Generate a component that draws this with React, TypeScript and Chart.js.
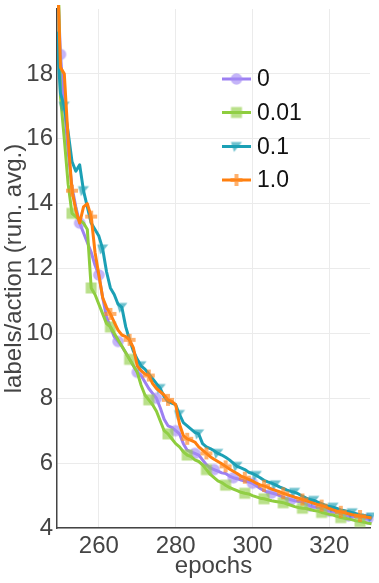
import React, { useEffect, useRef } from "react";
import { Chart, registerables } from "chart.js";

Chart.register(...registerables);

// ---------- data ----------
const EPOCHS = [
  249, 250, 251, 252, 253, 254, 255, 256, 257, 258,
  259, 260, 261, 262, 263, 264, 265, 266, 267, 268,
  269, 270, 271, 272, 273, 274, 275, 276, 277, 278,
  279, 280, 281, 282, 283, 284, 285, 286, 287, 288,
  289, 290, 291, 292, 293, 294, 295, 296, 297, 298,
  299, 300, 301, 302, 303, 304, 305, 306, 307, 308,
  309, 310, 311, 312, 313, 314, 315, 316, 317, 318,
  319, 320, 321, 322, 323, 324, 325, 326, 327, 328,
  329, 330, 331,
];

const SERIES_NAMES = ["0", "0.01", "0.1", "1.0"];

const VALUES_0 = [
  21.5, 18.6, 17.0, 15.6, 14.5, 13.9, 13.4, 13.1, 12.8, 12.5,
  12.1, 11.8, 11.1, 10.5, 10.2, 9.9, 9.75, 9.6, 9.4, 9.2,
  9.0, 8.8, 8.7, 8.5, 8.3, 8.15, 8.0, 7.7, 7.35, 7.15,
  7.1, 7.0, 6.9, 6.6, 6.4, 6.35, 6.3, 6.25, 6.1, 5.95,
  5.85, 5.8, 5.75, 5.7, 5.68, 5.6, 5.55, 5.52, 5.48, 5.45,
  5.42, 5.38, 5.3, 5.22, 5.15, 5.1, 5.08, 5.05, 5.0, 4.95,
  4.9, 4.87, 4.84, 4.82, 4.8, 4.74, 4.68, 4.65, 4.62, 4.6,
  4.56, 4.52, 4.5, 4.47, 4.44, 4.4, 4.37, 4.35, 4.34, 4.33,
  4.3, 4.28, 4.26,
];

const VALUES_001 = [
  24, 17.3, 16.0, 14.6, 13.7, 13.6, 13.5, 13.4, 13.2, 11.4,
  11.2, 10.9, 10.6, 10.3, 10.2, 10.0, 9.8, 9.6, 9.4, 9.2,
  9.0, 8.8, 8.4, 8.1, 7.95, 7.8, 7.6, 7.3, 7.0, 6.9,
  6.75, 6.6, 6.5, 6.35, 6.25, 6.2, 6.1, 6.05, 5.95, 5.8,
  5.65, 5.55, 5.45, 5.4, 5.32, 5.25, 5.2, 5.15, 5.1, 5.07,
  5.05, 5.0, 4.96, 4.92, 4.9, 4.87, 4.84, 4.82, 4.8, 4.78,
  4.74, 4.7, 4.66, 4.63, 4.61, 4.6, 4.57, 4.54, 4.52, 4.48,
  4.45, 4.42, 4.4, 4.36, 4.32, 4.3, 4.28, 4.25, 4.22, 4.2,
  4.18, 4.15, 4.13,
];

const VALUES_01 = [
  19.3, 17.4, 17.0, 16.2, 15.3, 15.0, 15.2, 14.4, 13.9, 13.4,
  13.2, 13.0, 12.6, 11.9, 11.4, 11.2, 10.9, 10.8, 10.2, 9.8,
  9.45, 9.2, 9.0, 8.9, 8.75, 8.6, 8.45, 8.3, 8.05, 7.9,
  7.85, 7.8, 7.5, 7.25, 7.15, 7.05, 6.95, 6.9, 6.6, 6.5,
  6.45, 6.38, 6.3, 6.25, 6.18, 6.1, 6.0, 5.9, 5.85, 5.8,
  5.72, 5.68, 5.62, 5.55, 5.47, 5.42, 5.38, 5.33, 5.27, 5.22,
  5.17, 5.13, 5.1, 5.05, 4.98, 4.92, 4.88, 4.85, 4.8, 4.75,
  4.7, 4.66, 4.64, 4.6, 4.56, 4.53, 4.5, 4.47, 4.44, 4.41,
  4.39, 4.36, 4.34,
];

const VALUES_1 = [
  22, 18.2, 18.0, 16.0, 14.4, 13.8, 13.4, 13.9, 14.0, 13.6,
  12.5, 11.8, 11.1, 10.8, 10.6, 10.35, 10.1, 9.95, 9.9, 9.8,
  9.55, 9.0, 8.85, 8.75, 8.7, 8.45, 8.3, 8.2, 8.1, 7.95,
  7.9, 7.8, 7.2, 6.85, 6.75, 6.7, 6.65, 6.5, 6.4, 6.3,
  6.2, 6.12, 6.05, 5.98, 5.9, 5.82, 5.75, 5.68, 5.6, 5.55,
  5.5, 5.45, 5.38, 5.33, 5.3, 5.25, 5.2, 5.16, 5.12, 5.07,
  5.03, 4.99, 4.95, 4.92, 4.88, 4.84, 4.8, 4.76, 4.72, 4.69,
  4.65, 4.6, 4.56, 4.52, 4.5, 4.47, 4.44, 4.41, 4.39, 4.37,
  4.35, 4.33, 4.31,
];

const X_TICKS = [260, 280, 300, 320];
const Y_TICKS = [4, 6, 8, 10, 12, 14, 16, 18];

// ---------- styles ----------
const FONT = "'Liberation Sans', Arial, Helvetica, sans-serif";
const LINE_COLORS = ["#9d80f2", "#8ecd3d", "#1ba0b5", "#ff7f0e"];
const MARKER_COLORS = [
  "rgba(165,140,245,0.65)",
  "rgba(148,208,75,0.65)",
  "rgba(30,160,180,0.65)",
  "rgba(255,135,30,0.65)",
];
const MARKER_KINDS = ["circle", "square", "tri", "plus"];
const MARKER_OFFSETS = [1, 4, 2, 4];
const DRAW_ORDER = [4, 3, 2, 1];

function makeMarker(kind: string, color: string): HTMLCanvasElement {
  const c = document.createElement("canvas");
  c.width = 14;
  c.height = 14;
  const g = c.getContext("2d")!;
  g.fillStyle = color;
  g.beginPath();
  if (kind === "circle") {
    g.arc(7, 7, 5.8, 0, Math.PI * 2);
  } else if (kind === "square") {
    g.rect(1.5, 1.5, 11, 11);
  } else if (kind === "tri") {
    g.moveTo(1.5, 2.5);
    g.lineTo(12.5, 2.5);
    g.lineTo(4.5, 12.5);
    g.closePath();
  } else {
    g.moveTo(5, 1);
    g.lineTo(9, 1);
    g.lineTo(9, 5);
    g.lineTo(13, 5);
    g.lineTo(13, 9);
    g.lineTo(9, 9);
    g.lineTo(9, 13);
    g.lineTo(5, 13);
    g.lineTo(5, 9);
    g.lineTo(1, 9);
    g.lineTo(1, 5);
    g.lineTo(5, 5);
    g.closePath();
  }
  g.fill();
  return c;
}

export default function App() {
  const ref = useRef<HTMLCanvasElement>(null);

  useEffect(() => {
    document.body.style.margin = "0";
    const seriesValues = [VALUES_0, VALUES_001, VALUES_01, VALUES_1];
    const markers = MARKER_KINDS.map((k, i) => makeMarker(k, MARKER_COLORS[i]));

    const legendPlugin = {
      id: "insideLegend",
      afterDraw(chart: any) {
        const ctx = chart.ctx;
        const rows = [79, 112.5, 146.5, 180];
        ctx.save();
        SERIES_NAMES.forEach((name, i) => {
          const y = rows[i];
          ctx.strokeStyle = LINE_COLORS[i];
          ctx.lineWidth = 3;
          ctx.beginPath();
          ctx.moveTo(222, y);
          ctx.lineTo(251, y);
          ctx.stroke();
          ctx.drawImage(markers[i], 236.5 - 7, y - 7);
          ctx.fillStyle = "#111";
          ctx.font = `23px ${FONT}`;
          ctx.textBaseline = "middle";
          ctx.textAlign = "left";
          ctx.fillText(name, 257, y + 1);
        });
        ctx.restore();
      },
    };

    const chart = new Chart(ref.current!, {
      type: "line",
      data: {
        datasets: SERIES_NAMES.map((name, i) => ({
          label: name,
          data: EPOCHS.map((e, j) => ({ x: e, y: seriesValues[i][j] })),
          borderColor: LINE_COLORS[i],
          borderWidth: 3,
          borderJoinStyle: "round" as const,
          tension: 0,
          fill: false,
          order: DRAW_ORDER[i],
          pointStyle: markers[i],
          pointRadius: (c: any) =>
            c.dataIndex >= MARKER_OFFSETS[i] && (c.dataIndex - MARKER_OFFSETS[i]) % 5 === 0 ? 6 : 0,
          pointHoverRadius: 0,
          clip: { left: 0, top: 4, right: 4, bottom: 4 } as any,
        })),
      },
      options: {
        animation: false,
        responsive: false,
        layout: { padding: 0 },
        plugins: { legend: { display: false }, tooltip: { enabled: false } },
        scales: {
          x: {
            type: "linear",
            min: 249.1,
            max: 330.6,
            afterBuildTicks: (s: any) => {
              s.ticks = X_TICKS.map((v) => ({ value: v }));
            },
            afterFit: (s: any) => {
              s.height = 55;
              s.paddingLeft = 0;
              s.paddingRight = 0;
            },
            grid: { color: "#ebebeb", lineWidth: 1, drawTicks: false },
            border: { display: true, color: "#444", width: 1.5 },
            ticks: {
              color: "#444",
              font: { family: FONT, size: 24 },
              padding: 4,
              maxRotation: 0,
            },
            title: {
              display: true,
              text: "epochs",
              color: "#444",
              font: { family: FONT, size: 24 },
              padding: { top: 0, bottom: 2 },
            },
          },
          y: {
            type: "linear",
            min: 4,
            max: 20,
            afterBuildTicks: (s: any) => {
              s.ticks = Y_TICKS.map((v) => ({ value: v }));
            },
            afterFit: (s: any) => {
              s.width = 57;
              s.paddingTop = 0;
              s.paddingBottom = 0;
            },
            grid: { color: "#ebebeb", lineWidth: 1, drawTicks: false },
            border: { display: true, color: "#444", width: 1.5 },
            ticks: {
              color: "#444",
              font: { family: FONT, size: 24 },
              padding: 4,
            },
            title: {
              display: true,
              text: "labels/action (run. avg.)",
              color: "#444",
              font: { family: FONT, size: 24 },
              padding: { top: 0, bottom: 0 },
            },
          },
        },
      },
      plugins: [legendPlugin],
    });
    return () => chart.destroy();
  }, []);

  return (
    <div style={{ width: 379, height: 583 }}>
      <canvas ref={ref} width={379} height={583} style={{ display: "block" }} />
    </div>
  );
}
